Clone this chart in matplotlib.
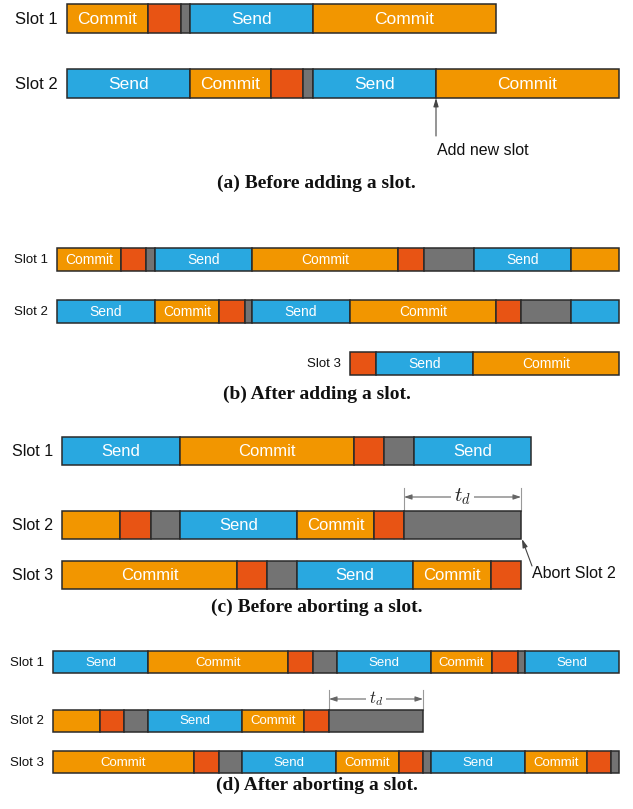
"""Slot timelines: adding and aborting a slot (four panels)."""

import matplotlib
matplotlib.use("Agg")

import matplotlib.pyplot as plt
import numpy as np

# ── Colours ────────────────────────────────────────────────────────────────
ORANGE = "#f29600"
BLUE   = "#29a8e0"
RED    = "#e85414"
GREY   = "#737373"
EDGE   = "#2a2a2a"

# kind letter -> (colour, text); lowercase = same colour, no text
KINDS = {
    "C": (ORANGE, "Commit"), "c": (ORANGE, ""),
    "S": (BLUE, "Send"),     "s": (BLUE, ""),
    "R": (RED, ""),
    "G": (GREY, ""),
}

# ── Data: segment kinds and durations (px) per slot ─────────────────────────
A_KINDS = ["CRGSC", "SCRGSC"]
A_DUR = [[81, 33, 9, 123, 183],
         [123, 81, 32, 10, 123, 183]]
A_START = [67, 67]

B_KINDS = ["CRGSCRGSc", "SCRGSCRGs", "RSC"]
B_DUR = [[64, 25, 9, 97, 146, 26, 50, 97, 48],
         [98, 64, 26, 7, 98, 146, 25, 50, 48],
         [26, 97, 146]]
B_START = [57, 57, 350]

C_KINDS = ["SCRGS", "cRGSCRG", "CRGSCR"]
C_DUR = [[118, 174, 30, 30, 117],
         [58, 31, 29, 117, 77, 30, 117],
         [175, 30, 30, 116, 78, 30]]
C_START = [62, 62, 62]

D_KINDS = ["SCRGSCRGS", "cRGSCRG", "CRGSCRGSCRG"]
D_DUR = [[95, 140, 25, 24, 94, 61, 26, 7, 94],
         [47, 24, 24, 94, 62, 25, 94],
         [141, 25, 23, 94, 63, 24, 8, 94, 62, 24, 8]]
D_START = [53, 53, 53]

SLOT_NAMES = ["Slot 1", "Slot 2", "Slot 3"]
CAPTIONS = ["(a) Before adding a slot.", "(b) After adding a slot.",
            "(c) Before aborting a slot.", "(d) After aborting a slot."]

W, H = 633, 809

plt.rcParams["font.family"] = ["Liberation Sans", "DejaVu Sans"]
plt.rcParams["mathtext.fontset"] = "cm"


def draw_slot(ax, name, start, kinds, durs, top, height, fs_in, fs_lab):
    lefts = start + np.concatenate([[0], np.cumsum(durs)[:-1]])
    colors = [KINDS[k][0] for k in kinds]
    ax.barh(top + height / 2, durs, height=height, left=lefts, color=colors,
            edgecolor=EDGE, linewidth=1.1, zorder=2)
    for k, l, d in zip(kinds, lefts, durs):
        txt = KINDS[k][1]
        if txt:
            ax.text(l + d / 2, top + height / 2 + 0.5, txt, ha="center",
                    va="center", color="white", fontsize=fs_in, zorder=3)
    ax.text(start - 9, top + height / 2 + 0.5, name, ha="right", va="center",
            color="#111111", fontsize=fs_lab)


def draw_td(ax, x0, x1, y_line, y_bar, fs):
    ax.plot([x0, x0], [y_line - 9, y_bar], color="#999999", lw=0.8, zorder=1)
    ax.plot([x1, x1], [y_line - 9, y_bar], color="#999999", lw=0.8, zorder=1)
    ax.annotate("", xy=(x0, y_line), xytext=(x1, y_line),
                arrowprops=dict(arrowstyle="<|-|>,head_length=0.45,head_width=0.15",
                                color="#666666", lw=0.8, shrinkA=0, shrinkB=0),
                zorder=1)
    ax.text((x0 + x1) / 2, y_line, r"$t_d$", ha="center", va="center",
            fontsize=fs, color="#222222", zorder=1.5,
            bbox=dict(boxstyle="square,pad=0.15", fc="white", ec="none"))


fig = plt.figure(figsize=(W / 100, H / 100), dpi=100)
ax = fig.add_axes([0, 0, 1, 1])
ax.set_xlim(0, W)
ax.set_ylim(H, 0)
ax.axis("off")

# (a)
for i, top in enumerate([4, 69]):
    draw_slot(ax, SLOT_NAMES[i], A_START[i], A_KINDS[i], A_DUR[i],
              top, 29, 12.5, 12)
ax.annotate("", xy=(436, 98), xytext=(436, 136),
            arrowprops=dict(arrowstyle="-|>,head_length=0.5,head_width=0.15",
                            color="#444444", lw=0.8, shrinkA=0, shrinkB=0))
ax.text(437, 150, "Add new slot", ha="left", va="center", fontsize=11.5,
        color="#111111")

# (b)
for i, top in enumerate([248, 300, 352]):
    draw_slot(ax, SLOT_NAMES[i], B_START[i], B_KINDS[i], B_DUR[i],
              top, 23, 10, 9.5)

# (c)
for i, top in enumerate([437, 511, 561]):
    draw_slot(ax, SLOT_NAMES[i], C_START[i], C_KINDS[i], C_DUR[i],
              top, 27.5, 12, 11.5)
draw_td(ax, 404, 521, 497, 511, 15)
ax.annotate("", xy=(522, 539), xytext=(532, 566),
            arrowprops=dict(arrowstyle="-|>,head_length=0.5,head_width=0.15",
                            color="#444444", lw=0.8, shrinkA=0, shrinkB=0))
ax.text(532, 573, "Abort Slot 2", ha="left", va="center", fontsize=11.5,
        color="#111111")

# (d)
for i, top in enumerate([651, 710, 751]):
    draw_slot(ax, SLOT_NAMES[i], D_START[i], D_KINDS[i], D_DUR[i],
              top, 22, 9.5, 9.5)
draw_td(ax, 329, 423, 699, 710, 12)

# captions
for cap, y in zip(CAPTIONS, [183, 394, 607, 785]):
    ax.text(W / 2, y, cap, ha="center", va="center", fontsize=14,
            fontweight="bold", family="Liberation Serif", color="#111111")

fig.savefig("out.png", dpi=100, facecolor="white")
plt.close(fig)
